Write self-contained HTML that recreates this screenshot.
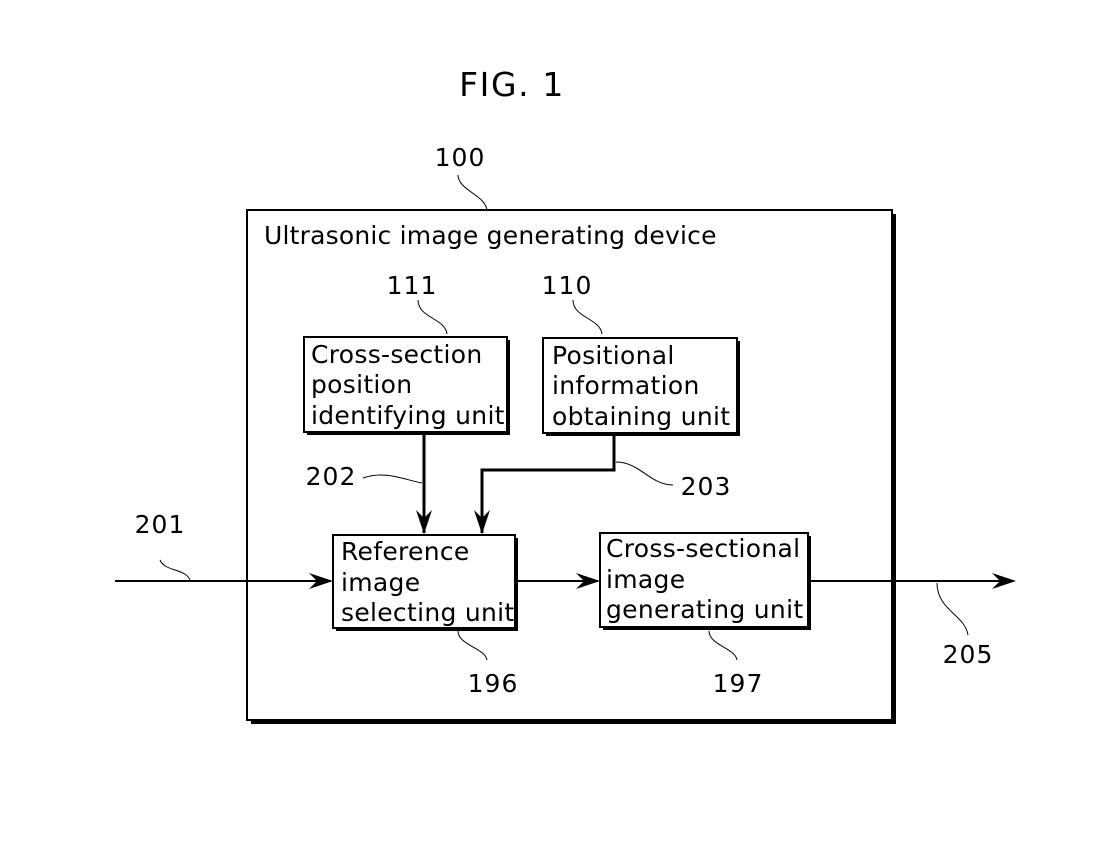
<!DOCTYPE html>
<html><head><style>
body{margin:0;background:#fff;}
svg text{font-family:"DejaVu Sans",sans-serif;fill:#000;}
</style></head><body>
<svg width="1098" height="850" viewBox="0 0 1098 850" xmlns="http://www.w3.org/2000/svg">
<text x="512" y="96" font-size="33" letter-spacing="1.6" text-anchor="middle">FIG. 1</text>
<!-- outer -->
<rect x="251" y="214" width="645" height="510" fill="#000"/>
<rect x="247" y="210" width="645" height="510" fill="#fff" stroke="#000" stroke-width="2"/>
<text x="264" y="244" font-size="25" letter-spacing="0.2">Ultrasonic image generating device</text>
<text x="460" y="166" font-size="25" letter-spacing="1" text-anchor="middle">100</text>
<path d="M458 175 C458 190,485 195,487 210" fill="none" stroke="#000" stroke-width="1"/>
<!-- 111 -->
<rect x="307" y="340" width="203" height="95" fill="#000"/>
<rect x="304" y="337" width="203" height="95" fill="#fff" stroke="#000" stroke-width="2"/>
<text font-size="25" letter-spacing="0.3"><tspan x="311" y="363">Cross-section</tspan><tspan x="311" y="393">position</tspan><tspan x="311" y="424">identifying unit</tspan></text>
<text x="412" y="294" font-size="25" letter-spacing="1" text-anchor="middle">111</text>
<path d="M418 300 C418 318,445 318,447 334" fill="none" stroke="#000" stroke-width="1"/>
<!-- 110 -->
<rect x="546" y="341" width="194" height="95" fill="#000"/>
<rect x="543" y="338" width="194" height="95" fill="#fff" stroke="#000" stroke-width="2"/>
<text font-size="25" letter-spacing="0.3"><tspan x="552" y="364">Positional</tspan><tspan x="552" y="394">information</tspan><tspan x="552" y="425">obtaining unit</tspan></text>
<text x="567" y="294" font-size="25" letter-spacing="1" text-anchor="middle">110</text>
<path d="M573 300 C573 318,600 318,602 334" fill="none" stroke="#000" stroke-width="1"/>
<!-- reference -->
<rect x="336" y="538" width="182" height="93" fill="#000"/>
<rect x="333" y="535" width="182" height="93" fill="#fff" stroke="#000" stroke-width="2"/>
<text font-size="25" letter-spacing="0.3"><tspan x="341" y="560">Reference</tspan><tspan x="341" y="591">image</tspan><tspan x="341" y="621">selecting unit</tspan></text>
<text x="493" y="692" font-size="25" letter-spacing="1" text-anchor="middle">196</text>
<path d="M458 631 C458 645,485 648,487 660" fill="none" stroke="#000" stroke-width="1"/>
<!-- cross-sectional -->
<rect x="603" y="536" width="208" height="94" fill="#000"/>
<rect x="600" y="533" width="208" height="94" fill="#fff" stroke="#000" stroke-width="2"/>
<text font-size="25" letter-spacing="0.3"><tspan x="606" y="557">Cross-sectional</tspan><tspan x="606" y="588">image</tspan><tspan x="606" y="618">generating unit</tspan></text>
<text x="738" y="692" font-size="25" letter-spacing="1" text-anchor="middle">197</text>
<path d="M709 631 C709 645,735 648,737 660" fill="none" stroke="#000" stroke-width="1"/>
<!-- connectors -->
<g stroke="#000" fill="none">
<path d="M424 433 V533" stroke-width="3"/>
<path d="M614 433 V470 H482 V533" stroke-width="3"/>
<path d="M115 581 H331" stroke-width="2"/>
<path d="M517 581 H598" stroke-width="2"/>
<path d="M810 581 H1013" stroke-width="2"/>
</g>
<g fill="#000">
<path d="M424 534 L416 510 L424 518 L432 510 Z"/>
<path d="M482 534 L474 510 L482 518 L490 510 Z"/>
<path d="M333 581 L309 573 L317 581 L309 589 Z"/>
<path d="M600 581 L576 573 L584 581 L576 589 Z"/>
<path d="M1016 581 L992 573 L1000 581 L992 589 Z"/>
</g>
<text x="160" y="533" font-size="25" letter-spacing="1" text-anchor="middle">201</text>
<path d="M160 560 C165 572,185 568,190 580" fill="none" stroke="#000" stroke-width="1"/>
<text x="331" y="485" font-size="25" letter-spacing="1" text-anchor="middle">202</text>
<path d="M363 478 C385 470,405 480,422 483" fill="none" stroke="#000" stroke-width="1"/>
<text x="706" y="495" font-size="25" letter-spacing="1" text-anchor="middle">203</text>
<path d="M616 462 C640 462,650 485,673 485" fill="none" stroke="#000" stroke-width="1"/>
<text x="968" y="663" font-size="25" letter-spacing="1" text-anchor="middle">205</text>
<path d="M937 583 C937 610,965 615,968 635" fill="none" stroke="#000" stroke-width="1"/>
</svg>
</body></html>
